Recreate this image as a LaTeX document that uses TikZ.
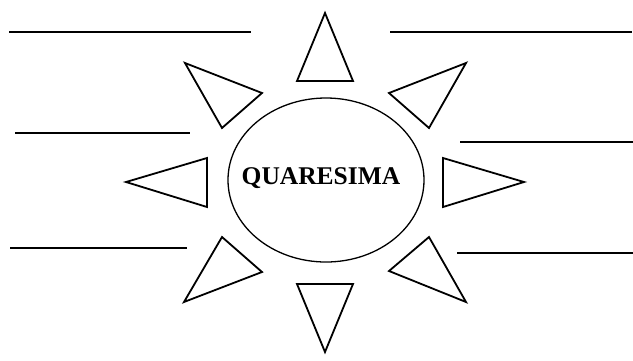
\documentclass[tikz,border=0pt]{standalone}
\usepackage{fontspec}
\setmainfont{Liberation Serif}
\begin{document}
\begin{tikzpicture}[x=1pt,y=-1pt,
  ray/.style={draw=black,line width=1.8pt,line join=miter},
  blank/.style={draw=black,line width=1.4pt},
  rim/.style={draw=black,line width=1.3pt},
  label/.style={inner sep=0pt,font=\fontsize{25.5}{29}\selectfont\bfseries}]
\useasboundingbox (0,0) rectangle (633,360);
% centre
\node[label] (sun) at (321,178) {QUARESIMA};
\draw[rim] (326,180) ellipse [x radius=98pt, y radius=82pt];
% rays
\draw[ray] (325,13) -- (297,81) -- (353,81) -- cycle;
\draw[ray] (325,352) -- (297,284) -- (353,284) -- cycle;
\draw[ray] (126,182) -- (207,158) -- (207,207) -- cycle;
\draw[ray] (524,182) -- (443,158) -- (443,207) -- cycle;
\draw[ray] (185,63) -- (262,93) -- (222,128) -- cycle;
\draw[ray] (466,63) -- (389,93) -- (429,128) -- cycle;
\draw[ray] (184,302) -- (222,237) -- (262,272) -- cycle;
\draw[ray] (466,302) -- (429,237) -- (389,271) -- cycle;
% blank lines
\draw[blank] (9,32) -- (251,32);
\draw[blank] (390,32) -- (632,32);
\draw[blank] (15,133) -- (190,133);
\draw[blank] (460,142) -- (633,142);
\draw[blank] (10,248) -- (187,248);
\draw[blank] (457,253) -- (633,253);
\end{tikzpicture}
\end{document}
